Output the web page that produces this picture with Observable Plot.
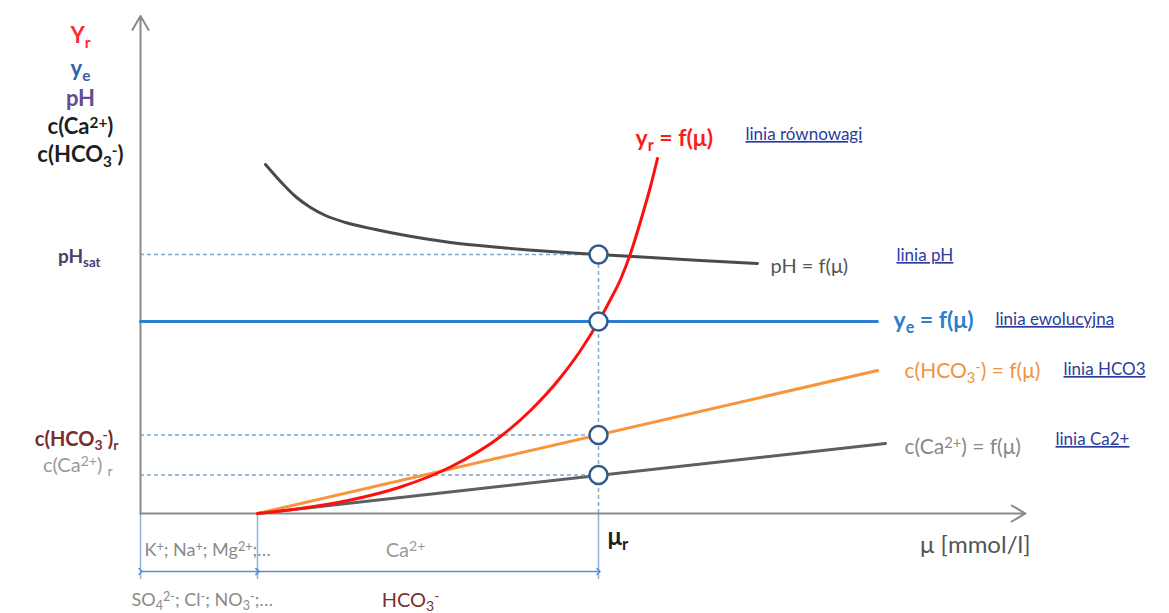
<!DOCTYPE html>
<html>
<head>
<meta charset="utf-8">
<script src="https://cdn.jsdelivr.net/npm/d3@7"></script>
<script src="https://cdn.jsdelivr.net/npm/@observablehq/plot@0.6"></script>
<style>
  html, body { margin: 0; padding: 0; background: #fff; }
  #chart svg { display: block; }
</style>
</head>
<body>
<div id="chart"></div>
<script>
// ---- data (μ in arbitrary units, values in arbitrary units) ----
const mu0 = 1.17;          // start of Ca2+/HCO3- region
const muR = 4.58;          // μ_r equilibrium point

const pHMu  = [1.25, 1.40, 1.55, 1.70, 1.85, 2.05, 2.35, 2.60, 3.10, 3.60, 4.10, 4.58, 5.10, 5.60, 6.17];
const pHVal = [6.98, 6.64, 6.34, 6.12, 5.96, 5.82, 5.68, 5.58, 5.42, 5.32, 5.24, 5.18, 5.12, 5.06, 5.00];

const yrMu  = [1.17, 1.60, 2.10, 2.60, 3.10, 3.60, 3.90, 4.20, 4.40, 4.58, 4.70, 4.80, 4.90, 5.00, 5.10, 5.17];
const yrVal = [0.00, 0.10, 0.27, 0.53, 0.93, 1.54, 2.06, 2.72, 3.26, 3.84, 4.28, 4.68, 5.20, 5.84, 6.54, 7.10];

const yeMu  = [0, 7.37];
const yeVal = [3.84, 3.84];

const hco3Mu  = [1.17, 7.37];
const hco3Val = [0, 2.86];

const caMu  = [1.17, 7.45];
const caVal = [0, 1.40];

const pHsat = 5.18, hco3R = 1.57, caR = 0.77;
const circleVals = [pHsat, 3.84, hco3R, caR];

// text annotations
const leftTitles = [
  ["Y_{r}", "#ff2a2a", 9.56],
  ["y_{e}", "#2f62a8", 8.90],
  ["pH", "#654a94", 8.30],
  ["c(Ca^{2+})", "#1e1e1e", 7.74],
  ["c(HCO_{3}^{-})", "#1e1e1e", 7.18]
];
const links = [
  ["linia równowagi", 6.05, 7.58],
  ["linia pH", 7.56, 5.16],
  ["linia ewolucyjna", 8.55, 3.88],
  ["linia HCO3", 9.23, 2.88],
  ["linia Ca2+", 9.15, 1.48]
];

const curve = (mu, v) => mu.map((m, i) => ({mu: m, v: v[i]}));

const font = "Lato, 'Open Sans', 'DejaVu Sans', sans-serif";

const chart = Plot.plot({
  width: 1169,
  height: 613,
  margin: 0,
  x: {domain: [-1.4, 10.29], range: [0, 1169], axis: null},
  y: {domain: [-2, 10.26], range: [613, 0], axis: null},
  style: {fontFamily: font, background: "#fff"},
  marks: [
    // dashed guide lines
    Plot.ruleY([pHsat, hco3R, caR], {x1: 0, x2: muR, stroke: "#7fa6d9", strokeWidth: 1.5, strokeDasharray: "4,3"}),
    Plot.ruleX([muR], {y1: 0, y2: pHsat, stroke: "#7fa6d9", strokeWidth: 1.5, strokeDasharray: "4,3"}),
    // bottom brackets
    Plot.ruleX([0, mu0, muR], {y1: 0, y2: -1.32, stroke: "#8fb1de", strokeWidth: 1.5}),
    Plot.link([[0, mu0], [mu0, muR]], {x1: d => d[0], x2: d => d[1], y1: -1.16, y2: -1.16,
      stroke: "#5b8fd1", strokeWidth: 1.5, marker: "arrow"}),
    // axes
    Plot.arrow([0], {x1: 0, y1: 0, x2: 0, y2: 9.95, stroke: "#8a8a8a", strokeWidth: 2, headLength: 12}),
    Plot.arrow([0], {x1: 0, y1: 0, x2: 8.85, y2: 0, stroke: "#8a8a8a", strokeWidth: 2, headLength: 12}),
    // curves
    Plot.line(curve(yeMu, yeVal), {x: "mu", y: "v", stroke: "#2a7fcf", strokeWidth: 3}),
    Plot.line(curve(caMu, caVal), {x: "mu", y: "v", stroke: "#5f5f5f", strokeWidth: 3}),
    Plot.line(curve(hco3Mu, hco3Val), {x: "mu", y: "v", stroke: "#f7953d", strokeWidth: 3}),
    Plot.line(curve(pHMu, pHVal), {x: "mu", y: "v", stroke: "#4a4a4a", strokeWidth: 3, curve: "monotone-x"}),
    Plot.line(curve(yrMu, yrVal), {x: "mu", y: "v", stroke: "#ff1010", strokeWidth: 3, curve: "monotone-x"}),
    // equilibrium circles
    Plot.dot(circleVals, {x: muR, y: d => d, r: 9, fill: "#fff", stroke: "#2f5b8c", strokeWidth: 2.5}),
    // left titles
    Plot.text(leftTitles, {x: -0.6, y: d => d[2], text: d => d[0], fill: d => d[1], fontSize: 22, fontWeight: "bold"}),
    // left level labels
    Plot.text(["pH_{sat}"], {x: -0.4, y: 5.14, text: d => d, textAnchor: "end", fill: "#4e3d6e", fontSize: 19, fontWeight: "bold"}),
    Plot.text(["c(HCO_{3}^{-})_{r}"], {x: -0.22, y: 1.48, text: d => d, textAnchor: "end", fill: "#7b2c2c", fontSize: 20, fontWeight: "bold"}),
    Plot.text(["c(Ca^{2+}) _{r}"], {x: -0.28, y: 0.96, text: d => d, textAnchor: "end", fill: "#9a9a9a", fontSize: 20}),
    // bottom labels
    Plot.text(["K^{+}; Na^{+}; Mg^{2+};…"], {x: 0.04, y: -0.74, text: d => d, textAnchor: "start", fill: "#8a8a8a", fontSize: 18}),
    Plot.text(["Ca^{2+}"], {x: 2.65, y: -0.74, text: d => d, fill: "#9a9a9a", fontSize: 20}),
    Plot.text(["SO_{4}^{2-}; Cl^{-}; NO_{3}^{-};…"], {x: -0.09, y: -1.74, text: d => d, textAnchor: "start", fill: "#8a8a8a", fontSize: 18}),
    Plot.text(["HCO_{3}^{-}"], {x: 2.70, y: -1.74, text: d => d, fill: "#7a3030", fontSize: 20}),
    Plot.text(["μ_{r}"], {x: 4.67, y: -0.48, text: d => d, textAnchor: "start", fill: "#1e1e1e", fontSize: 24, fontWeight: "bold"}),
    Plot.text(["μ [mmol/l]"], {x: 8.9, y: -0.64, text: d => d, textAnchor: "end", fill: "#555", fontSize: 24}),
    // curve labels
    Plot.text(["y_{r} = f(μ)"], {x: 4.95, y: 7.5, text: d => d, textAnchor: "start", fill: "#ff1a1a", fontSize: 23, fontWeight: "bold"}),
    Plot.text(["pH = f(μ)"], {x: 6.3, y: 4.94, text: d => d, textAnchor: "start", fill: "#555", fontSize: 20}),
    Plot.text(["y_{e} = f(μ)"], {x: 7.53, y: 3.86, text: d => d, textAnchor: "start", fill: "#2a7fcf", fontSize: 23, fontWeight: "bold"}),
    Plot.text(["c(HCO_{3}^{-}) = f(μ)"], {x: 7.64, y: 2.84, text: d => d, textAnchor: "start", fill: "#f39340", fontSize: 21}),
    Plot.text(["c(Ca^{2+}) = f(μ)"], {x: 7.64, y: 1.32, text: d => d, textAnchor: "start", fill: "#888", fontSize: 21}),
    // link labels
    Plot.text(links, {x: d => d[1], y: d => d[2], text: d => d[0], textAnchor: "start", fill: "#2b3c9e", fontSize: 17})
  ]
});

// turn _{..} and ^{..} into sub/superscript tspans; underline the link labels
d3.select(chart).selectAll("text").each(function () {
  const t = this.textContent;
  if (t.startsWith("linia")) this.style.textDecoration = "underline";
  if (!/[_^]\{/.test(t)) return;
  this.textContent = "";
  const sel = d3.select(this);
  const re = /([_^])\{([^}]*)\}/g;
  let last = 0, m;
  while ((m = re.exec(t))) {
    if (m.index > last) sel.append("tspan").text(t.slice(last, m.index));
    sel.append("tspan")
      .attr("font-size", "70%")
      .attr("baseline-shift", m[1] === "_" ? "-30%" : "40%")
      .text(m[2]);
    last = re.lastIndex;
  }
  if (last < t.length) sel.append("tspan").text(t.slice(last));
});

document.getElementById("chart").appendChild(chart);
</script>
</body>
</html>
